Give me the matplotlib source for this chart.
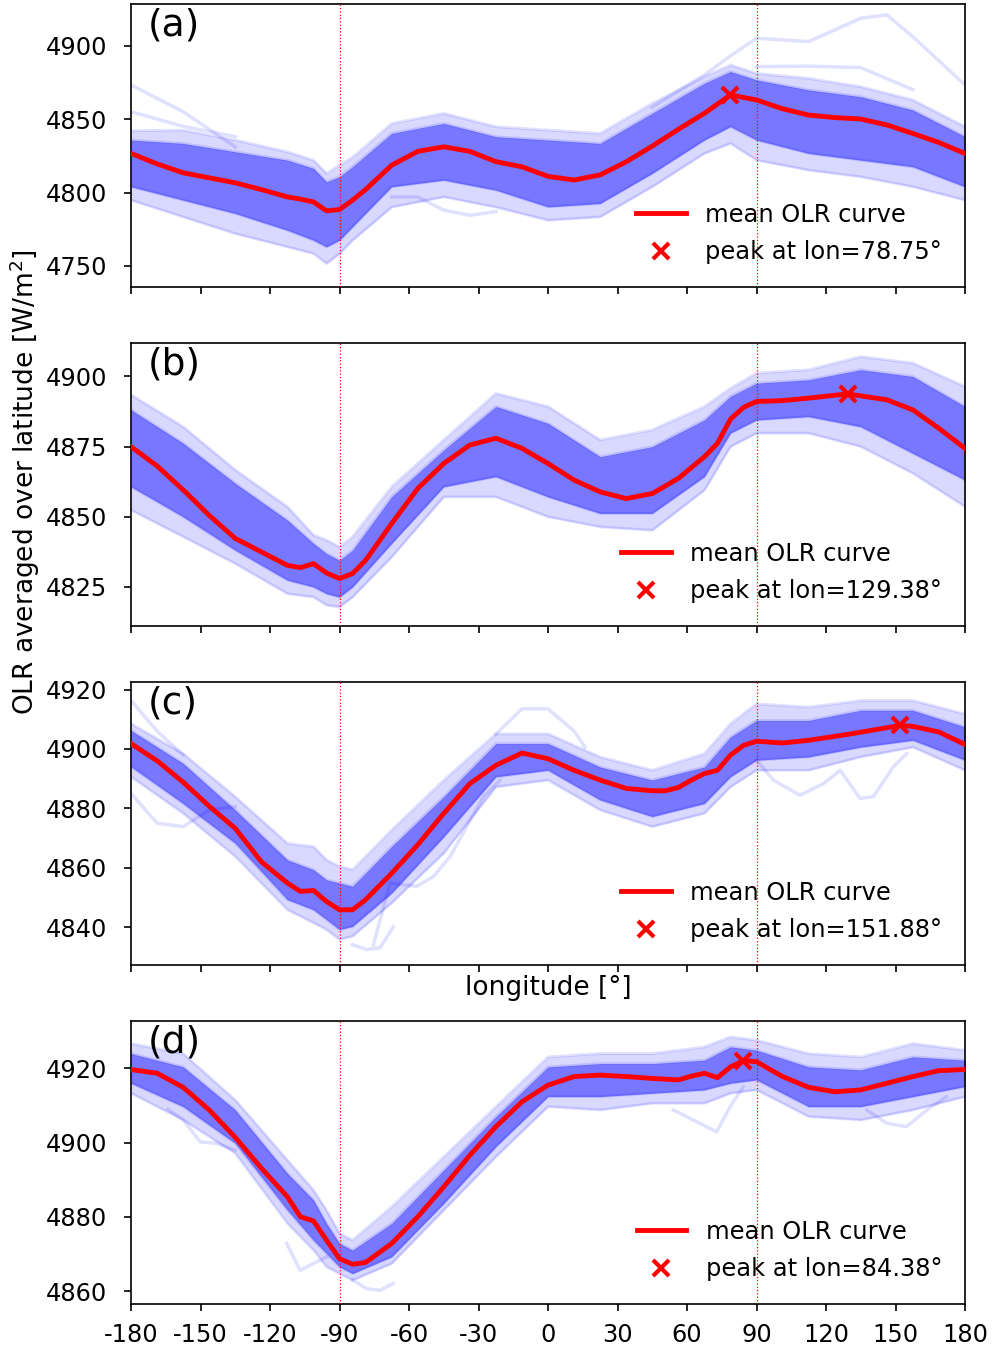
import numpy as np
import matplotlib
matplotlib.use("Agg")
import matplotlib.pyplot as plt

plt.rcParams["axes.unicode_minus"] = False

# --------- dados ---------
LON_A = [-180, -168.75, -157.5, -146.25, -135, -123.75, -112.5, -106.875, -101.25, -95.625, -90,
         -84.375, -78.75, -67.5, -56.25, -45, -33.75, -22.5, -11.25, 0, 11.25, 22.5, 33.75, 45,
         56.25, 67.5, 78.75, 90, 101.25, 112.5, 123.75, 135, 146.25, 157.5, 168.75, 180]
MEAN_A = [4826.6, 4819.5, 4813.4, 4810.0, 4806.6, 4802.0, 4797.0, 4795.5, 4793.6, 4787.5, 4788.4,
          4794.8, 4802.0, 4818.6, 4828.0, 4831.1, 4828.0, 4821.0, 4817.5, 4811.0, 4808.5, 4812.0,
          4820.9, 4831.6, 4843.0, 4853.9, 4866.4, 4863.0, 4857.0, 4852.7, 4851.0, 4850.0, 4846.0,
          4840.2, 4834.0, 4826.6]

LON_B = [-180, -168.75, -157.5, -146.25, -135, -123.75, -112.5, -106.875, -101.25, -95.625, -90,
         -84.375, -78.75, -67.5, -56.25, -45, -33.75, -22.5, -11.25, 0, 11.25, 22.5, 33.75, 45,
         56.25, 67.5, 73.125, 78.75, 84.375, 90, 101.25, 112.5, 129.375, 146.25, 157.5, 168.75, 180]
MEAN_B = [4875.0, 4868.1, 4859.6, 4850.5, 4842.3, 4837.5, 4832.7, 4831.9, 4833.3, 4830.0, 4828.0,
          4829.8, 4834.5, 4847.6, 4860.1, 4869.0, 4875.6, 4878.0, 4874.4, 4869.0, 4863.1, 4858.9,
          4856.5, 4858.3, 4863.7, 4871.4, 4876.2, 4884.8, 4889.0, 4891.1, 4891.4, 4892.3, 4893.8,
          4891.7, 4888.1, 4881.5, 4874.4]

LON_C = [-180, -168.75, -157.5, -146.25, -135, -123.75, -112.5, -106.875, -101.25, -95.625, -90,
         -84.375, -78.75, -67.5, -56.25, -45, -33.75, -22.5, -11.25, 0, 11.25, 22.5, 33.75, 45,
         50.625, 56.25, 61.875, 67.5, 73.125, 78.75, 84.375, 90, 101.25, 112.5, 129.375, 151.875,
         157.5, 168.75, 180]
MEAN_C = [4901.8, 4896.0, 4888.8, 4880.7, 4873.2, 4862.0, 4854.8, 4852.0, 4852.3, 4848.6, 4845.8,
          4845.8, 4849.2, 4858.1, 4867.7, 4878.3, 4888.3, 4894.5, 4898.6, 4896.7, 4892.8, 4889.5,
          4886.7, 4885.9, 4885.9, 4887.0, 4889.5, 4891.7, 4892.8, 4897.9, 4901.2, 4902.6, 4902.0,
          4902.9, 4904.9, 4907.9, 4907.6, 4905.7, 4901.5]

LON_D = [-180, -168.75, -157.5, -146.25, -135, -123.75, -112.5, -106.875, -101.25, -95.625, -90,
         -84.375, -78.75, -67.5, -56.25, -45, -33.75, -22.5, -11.25, 0, 11.25, 22.5, 33.75, 45,
         56.25, 61.875, 67.5, 73.125, 78.75, 84.375, 90, 101.25, 112.5, 123.75, 135, 146.25,
         157.5, 168.75, 180]
MEAN_D = [4919.7, 4918.7, 4914.9, 4908.8, 4901.4, 4893.1, 4885.4, 4880.0, 4878.9, 4873.7, 4868.7,
          4867.2, 4867.7, 4872.8, 4880.0, 4888.1, 4896.6, 4904.3, 4911.0, 4915.5, 4917.8, 4918.2,
          4917.8, 4917.3, 4916.9, 4917.9, 4918.7, 4917.5, 4920.4, 4922.1, 4921.8, 4917.8, 4914.9,
          4913.7, 4914.2, 4916.0, 4917.8, 4919.4, 4919.7]

# envelope das curvas dos membros (faixa externa e núcleo denso)
BAND_LON = [-180, -157.5, -135, -112.5, -101.25, -95.625, -90, -84.375, -67.5, -45, -22.5,
            0, 22.5, 45, 67.5, 78.75, 90, 112.5, 135, 157.5, 180]

OUT_HI_A = [4842.0, 4842.5, 4835.7, 4827.7, 4822.0, 4813.0, 4818.6, 4824.0, 4847.0, 4853.9, 4844.8,
            4842.5, 4840.2, 4860.7, 4878.9, 4886.8, 4881.1, 4877.7, 4872.0, 4863.0, 4844.8]
OUT_LO_A = [4794.8, 4783.4, 4772.0, 4763.0, 4758.4, 4751.6, 4758.4, 4767.5, 4790.0, 4797.0, 4790.0,
            4781.1, 4783.4, 4803.9, 4826.6, 4833.4, 4822.0, 4815.2, 4810.7, 4803.9, 4794.8]
IN_HI_A = [4835.7, 4833.4, 4827.7, 4822.0, 4816.4, 4807.3, 4810.7, 4817.5, 4840.2, 4847.0, 4838.0,
           4835.7, 4833.4, 4853.9, 4874.3, 4882.3, 4876.6, 4869.8, 4865.2, 4856.1, 4838.0]
IN_LO_A = [4803.9, 4794.8, 4785.7, 4774.3, 4767.5, 4763.0, 4767.5, 4776.6, 4803.9, 4808.4, 4801.6,
           4790.2, 4792.5, 4813.0, 4835.7, 4844.8, 4835.7, 4826.6, 4822.0, 4817.5, 4803.9]

OUT_HI_B = [4893.5, 4882.1, 4866.7, 4853.6, 4843.5, 4841.7, 4839.3, 4842.9, 4860.7, 4877.4, 4894.0,
            4889.3, 4877.4, 4881.0, 4889.3, 4895.8, 4901.2, 4902.4, 4907.1, 4904.8, 4896.4]
OUT_LO_B = [4852.4, 4842.9, 4833.3, 4822.6, 4821.4, 4818.5, 4817.9, 4821.4, 4835.7, 4857.1, 4857.1,
            4850.0, 4846.4, 4845.2, 4859.5, 4875.0, 4879.8, 4879.8, 4875.0, 4865.5, 4853.6]
IN_HI_B = [4888.1, 4876.2, 4861.9, 4848.8, 4840.5, 4836.9, 4834.5, 4838.1, 4857.1, 4873.8, 4889.3,
           4883.3, 4871.4, 4875.0, 4884.5, 4892.9, 4897.6, 4898.8, 4902.4, 4900.0, 4889.3]
IN_LO_B = [4860.7, 4850.0, 4838.1, 4827.4, 4825.0, 4822.6, 4821.4, 4825.0, 4840.5, 4860.7, 4864.3,
           4857.1, 4851.2, 4851.2, 4864.3, 4879.8, 4884.5, 4885.7, 4882.1, 4872.6, 4863.1]

OUT_HI_C = [4908.5, 4898.4, 4883.9, 4868.2, 4867.1, 4862.6, 4860.4, 4859.3, 4872.7, 4889.5, 4905.1,
            4905.1, 4897.3, 4892.8, 4898.4, 4908.5, 4915.2, 4914.1, 4916.3, 4916.3, 4911.8]
OUT_LO_C = [4890.6, 4878.3, 4863.7, 4845.8, 4841.4, 4839.1, 4835.8, 4836.9, 4848.1, 4864.9, 4887.2,
            4889.5, 4879.4, 4873.8, 4878.3, 4887.2, 4892.8, 4892.8, 4897.3, 4900.6, 4892.8]
IN_HI_C = [4906.2, 4895.1, 4879.4, 4862.6, 4859.3, 4855.9, 4854.8, 4853.7, 4867.1, 4883.9, 4901.8,
           4901.8, 4893.9, 4889.5, 4893.9, 4904.0, 4909.6, 4909.6, 4913.0, 4913.0, 4907.4]
IN_LO_C = [4894.0, 4881.6, 4868.2, 4849.2, 4845.8, 4842.5, 4839.1, 4840.2, 4851.4, 4870.4, 4890.6,
           4892.8, 4882.8, 4877.2, 4881.6, 4890.6, 4896.2, 4897.3, 4900.6, 4902.9, 4896.2]

OUT_HI_D = [4926.7, 4924.0, 4911.5, 4895.3, 4887.2, 4881.8, 4875.5, 4873.7, 4882.7, 4896.2, 4909.7,
            4923.1, 4924.0, 4924.0, 4925.8, 4928.5, 4927.6, 4924.0, 4923.1, 4926.7, 4924.9]
OUT_LO_D = [4913.3, 4906.1, 4897.1, 4878.2, 4871.0, 4866.5, 4864.7, 4862.9, 4867.4, 4881.8, 4896.2,
            4909.7, 4908.8, 4910.6, 4910.6, 4913.3, 4914.2, 4907.0, 4906.1, 4908.8, 4912.4]
IN_HI_D = [4924.0, 4920.4, 4908.8, 4891.7, 4884.5, 4878.2, 4872.8, 4871.0, 4878.2, 4892.6, 4907.0,
           4920.4, 4921.3, 4921.3, 4922.2, 4925.8, 4924.9, 4920.4, 4919.6, 4923.1, 4922.2]
IN_LO_D = [4916.0, 4909.7, 4899.8, 4881.8, 4873.7, 4870.1, 4866.5, 4864.7, 4869.2, 4883.6, 4898.9,
           4912.4, 4912.4, 4913.3, 4914.2, 4916.0, 4916.9, 4909.7, 4909.7, 4912.4, 4915.1]

# membros isolados que saem da faixa (lon, valor)
OUTLIERS_A = [
    ([45, 67.5, 78.75, 90, 112.5, 135, 146.25, 157.5, 180], [4858, 4880, 4893, 4905, 4902.7, 4918.6, 4920.9, 4906, 4873.2]),
    ([-180, -157.5, -135], [4873.2, 4855, 4831]),
    ([-180, -157.5, -135], [4855, 4845, 4838]),
    ([-67.5, -56.25, -45, -33.75, -22.5], [4797, 4797, 4788, 4784.5, 4787]),
    ([90, 112.5, 135, 157.5], [4885.7, 4886, 4885, 4870]),
]
OUTLIERS_B = []
OUTLIERS_C = [
    ([-180, -168.75, -157.5, -146.25, -135], [4885, 4875, 4873.8, 4879.4, 4880.5]),
    ([-180, -168.75, -157.5], [4916.3, 4906, 4898]),
    ([-75.4, -68.2, -56.7, -49.5, -42.3, -35.1, -27.9, -20.7], [4834, 4854.8, 4853.7, 4857, 4863.7, 4873.8, 4883.9, 4889.5]),
    ([-84.4, -78.3, -72.5, -66.8], [4834, 4832.4, 4833, 4840]),
    ([-22.5, -11.25, 0, 11.25, 16], [4905, 4913.5, 4913.5, 4906, 4900.6]),
    ([90, 97.3, 108.8, 118.9, 126.1, 134.7, 140.4, 149.1, 154.8], [4896.2, 4889.5, 4884.4, 4888.3, 4892.8, 4883.3, 4883.9, 4894, 4898.4]),
]
OUTLIERS_D = [
    ([54.1, 62.7, 72.8, 78.6, 84.3], [4908.8, 4906.1, 4902.9, 4909.7, 4915]),
    ([137.6, 146.2, 154.8, 163.5, 172.1], [4908.8, 4905.2, 4904.3, 4908.8, 4912.4]),
    ([-112.8, -107.1, -101.3, -95.5], [4872.8, 4865.6, 4867.4, 4869.2]),
    ([-84.4, -78.3, -72.5, -66.8], [4863, 4860.6, 4860.2, 4862]),
    ([-164, -157.4, -150.2, -143, -135], [4909, 4906.1, 4900.2, 4899.8, 4898]),
]

PANELS = [
    ("(a)", LON_A, MEAN_A, OUT_HI_A, OUT_LO_A, IN_HI_A, IN_LO_A, OUTLIERS_A, (4735.7, 4928.6), [4750, 4800, 4850, 4900]),
    ("(b)", LON_B, MEAN_B, OUT_HI_B, OUT_LO_B, IN_HI_B, IN_LO_B, OUTLIERS_B, (4811.1, 4912.1), [4825, 4850, 4875, 4900]),
    ("(c)", LON_C, MEAN_C, OUT_HI_C, OUT_LO_C, IN_HI_C, IN_LO_C, OUTLIERS_C, (4827.2, 4922.7), [4840, 4860, 4880, 4900, 4920]),
    ("(d)", LON_D, MEAN_D, OUT_HI_D, OUT_LO_D, IN_HI_D, IN_LO_D, OUTLIERS_D, (4856.5, 4932.9), [4860, 4880, 4900, 4920]),
]
XTICKS = list(range(-180, 181, 30))
# -------------------------------------

FS = 17.4
FS_LABEL = 19
BOTTOMS = [0.78788, 0.53733, 0.28677, 0.03622]


def main():
    fig = plt.figure(figsize=(9.92, 13.53), dpi=100)
    axes = []
    for i, (tag, lon, mean, ohi, olo, ihi, ilo, outl, ylim, yt) in enumerate(PANELS):
        ax = fig.add_axes([0.1321, BOTTOMS[i], 0.8407, 0.2095])
        axes.append(ax)

        # nuvem de membros
        ax.fill_between(BAND_LON, olo, ohi, color="blue", alpha=0.15, lw=0)
        ax.fill_between(BAND_LON, ilo, ihi, color="blue", alpha=0.45, lw=0)
        for y in (ohi, olo, ihi, ilo):
            ax.plot(BAND_LON, y, color="blue", alpha=0.12, lw=2)
        for xs, ys in outl:
            ax.plot(xs, ys, color="blue", alpha=0.12, lw=2.5)

        ax.axvline(-90, color="red", ls=":", lw=0.9, zorder=4)
        ax.axvline(90, color="red", ls=":", lw=0.9, zorder=4)

        ax.plot(lon, mean, color="red", lw=3.5, label="mean OLR curve", zorder=5)
        k = int(np.argmax(mean))
        ax.plot(lon[k], mean[k], "x", color="red", ms=12, mew=3, ls="none",
                label=f"peak at lon={lon[k]:.2f}°", zorder=6)

        ax.set_xlim(-180, 180)
        ax.set_ylim(*ylim)
        ax.set_xticks(XTICKS)
        ax.set_yticks(yt)
        ax.tick_params(labelsize=FS, length=5, width=1.2)
        ax.tick_params(axis="y", pad=12)
        ax.tick_params(axis="x", pad=9)
        if i < 3:
            ax.tick_params(labelbottom=False)
        for sp in ax.spines.values():
            sp.set_linewidth(1.2)
        ax.text(0.02, 0.985, tag, transform=ax.transAxes, fontsize=27, va="top", ha="left")
        ax.legend(loc="lower right", frameon=False, fontsize=FS, handlelength=2.05,
                  labelspacing=0.55, borderaxespad=0.55)

    axes[2].set_xlabel("longitude [°]", fontsize=FS_LABEL, labelpad=2)
    fig.text(0.025, 0.6437, "OLR averaged over latitude [W/m$^2$]", rotation=90,
             fontsize=FS_LABEL, va="center", ha="center")
    fig.savefig("out.png", dpi=100)


if __name__ == "__main__":
    main()
